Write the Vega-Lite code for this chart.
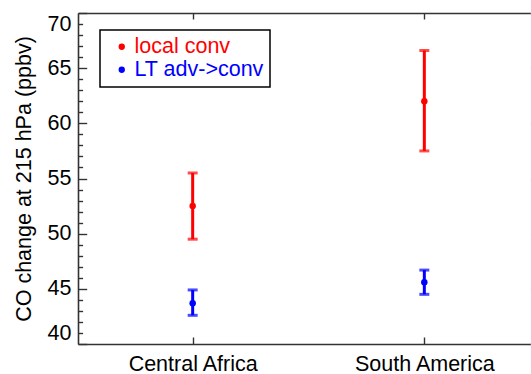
{
  "$schema": "https://vega.github.io/schema/vega-lite/v6.json",
  "autosize": "none",
  "width": 461,
  "height": 331,
  "padding": {"left": 78, "top": 13, "right": -8, "bottom": 30},
  "background": "white",
  "config": {
    "view": {"stroke": null},
    "font": "Liberation Sans",
    "axis": {
      "grid": false,
      "domainColor": "#333333",
      "domainWidth": 1.6,
      "tickColor": "#333333",
      "tickWidth": 1.4,
      "labelColor": "black",
      "labelFont": "Liberation Sans",
      "labelFontSize": 21.5,
      "labelOverlap": false,
      "titleFont": "Liberation Sans",
      "titleFontSize": 21.5,
      "titleFontWeight": "normal",
      "titleColor": "black"
    }
  },
  "data": {
    "values": [
      {"region": "Central Africa", "series": "local conv", "mid": 52.5, "lo": 49.5, "hi": 55.5},
      {"region": "Central Africa", "series": "LT adv->conv", "mid": 43.7, "lo": 42.6, "hi": 44.9},
      {"region": "South America", "series": "local conv", "mid": 62.0, "lo": 57.5, "hi": 66.6},
      {"region": "South America", "series": "LT adv->conv", "mid": 45.6, "lo": 44.5, "hi": 46.7}
    ]
  },
  "resolve": {"axis": {"x": "independent", "y": "independent"}},
  "encoding": {
    "color": {"field": "series", "type": "nominal",
              "scale": {"domain": ["local conv", "LT adv->conv"], "range": ["#ff0000", "#0000ff"]},
              "legend": {
                "title": null, "orient": "none", "legendX": 22, "legendY": 17,
                "strokeColor": "black", "fillColor": "white",
                "padding": 6, "symbolType": "circle", "symbolSize": 40, "symbolOffset": 5,
                "symbolStrokeWidth": 0, "labelOffset": 2, "labelFontSize": 21.5, "labelFont": "Liberation Sans",
                "rowPadding": 0,
                "encode": {
                  "legend": {"update": {"strokeWidth": {"value": 1.5}}},
                  "labels": {"update": {"fill": {"scale": "color", "field": "value"}}},
                  "symbols": {"update": {"fill": {"scale": "color", "field": "value"}, "fillOpacity": {"value": 1}}}
                }
              }}
  },
  "layer": [
    {
      "mark": {"type": "rule", "strokeWidth": 3},
      "encoding": {
        "x": {"field": "region", "type": "nominal", "sort": ["Central Africa", "South America"],
              "scale": {"type": "point", "padding": 0.495, "align": 0.5},
              "axis": {"orient": "bottom", "title": null, "labelAngle": 0, "tickSize": -7, "labelPadding": 16}},
        "y": {"field": "lo", "type": "quantitative",
              "scale": {"domain": [40, 70], "zero": false, "nice": false},
              "axis": {"orient": "left",
                       "values": [40, 45, 50, 55, 60, 65, 70],
                       "tickSize": -8.7,
                       "labelPadding": 15.7, "labelFlush": true,
                       "title": "CO change at 215 hPa (ppbv)", "titlePadding": 12}},
        "y2": {"field": "hi"}
      }
    },
    {
      "mark": {"type": "tick", "thickness": 3, "size": 10},
      "encoding": {
        "x": {"field": "region", "type": "nominal", "sort": ["Central Africa", "South America"],
              "axis": {"orient": "top", "title": null, "labels": false, "tickSize": -6}},
        "y": {"field": "hi", "type": "quantitative",
              "axis": {"orient": "left",
                       "values": [41,42,43,44,46,47,48,49,51,52,53,54,56,57,58,59,61,62,63,64,66,67,68,69],
                       "tickSize": -4.6, "labels": false, "domain": false, "title": null}}
      }
    },
    {
      "mark": {"type": "tick", "thickness": 3, "size": 10},
      "encoding": {
        "x": {"field": "region", "type": "nominal", "sort": ["Central Africa", "South America"], "axis": null},
        "y": {"field": "lo", "type": "quantitative",
              "axis": {"orient": "right", "values": [40, 45, 50, 55, 60, 65, 70], "tickSize": -8.7, "tickColor": "#cccccc", "labels": false, "title": null}}
      }
    },
    {
      "mark": {"type": "point", "filled": true, "size": 42, "opacity": 1, "shape": "circle"},
      "encoding": {
        "x": {"field": "region", "type": "nominal", "sort": ["Central Africa", "South America"], "axis": null},
        "y": {"field": "mid", "type": "quantitative", "axis": null}
      }
    }
  ]
}
